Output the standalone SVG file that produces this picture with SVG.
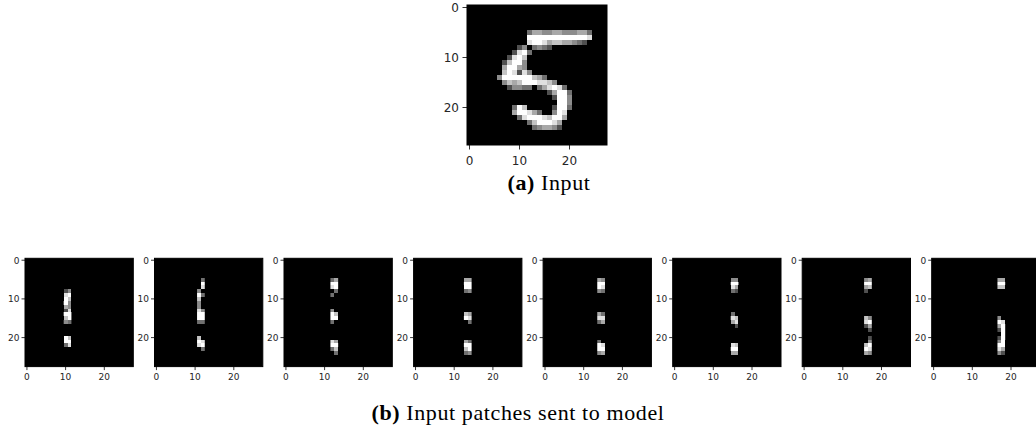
<svg xmlns="http://www.w3.org/2000/svg" xmlns:xlink="http://www.w3.org/1999/xlink" width="1036" height="431" viewBox="0 0 1036 431">
  <style>
    .g9{fill:#ffffff}.g8{fill:#e0e0e0}.g7{fill:#c4c4c4}.g6{fill:#a8a8a8}
    .g5{fill:#8c8c8c}.g4{fill:#707070}.g3{fill:#505050}
    .frame{fill:#000;stroke:#000;stroke-width:1}
    .tick{stroke:#000;stroke-width:0.8}
    .lbl{font-family:"DejaVu Sans",sans-serif;fill:#262626}
    .big{font-size:12px}
    .small{font-size:9px}
    .cap{font-family:"Liberation Serif",serif;font-size:22px;fill:#000;letter-spacing:0.6px}
  </style>
  <defs>
    <!-- 28x28 handwritten digit, one unit per pixel -->
    <g id="digit" shape-rendering="crispEdges">
      <rect x="12" y="5" width="1" height="1" class="g4"/><rect x="13" y="5" width="2" height="1" class="g6"/><rect x="15" y="5" width="2" height="1" class="g5"/><rect x="17" y="5" width="2" height="1" class="g6"/><rect x="19" y="5" width="3" height="1" class="g5"/><rect x="22" y="5" width="2" height="1" class="g6"/><rect x="24" y="5" width="1" height="1" class="g4"/>
      <rect x="12" y="6" width="12" height="1" class="g9"/><rect x="24" y="6" width="1" height="1" class="g8"/>
      <rect x="12" y="7" width="1" height="1" class="g8"/><rect x="13" y="7" width="2" height="1" class="g9"/><rect x="15" y="7" width="1" height="1" class="g8"/><rect x="16" y="7" width="1" height="1" class="g6"/><rect x="17" y="7" width="2" height="1" class="g7"/><rect x="19" y="7" width="2" height="1" class="g6"/><rect x="21" y="7" width="1" height="1" class="g5"/><rect x="22" y="7" width="1" height="1" class="g4"/><rect x="23" y="7" width="1" height="1" class="g3"/>
      <rect x="10" y="8" width="1" height="1" class="g3"/><rect x="11" y="8" width="1" height="1" class="g5"/><rect x="13" y="8" width="1" height="1" class="g4"/><rect x="14" y="8" width="1" height="1" class="g5"/><rect x="15" y="8" width="1" height="1" class="g4"/><rect x="16" y="8" width="1" height="1" class="g3"/>
      <rect x="9" y="9" width="1" height="1" class="g3"/><rect x="10" y="9" width="1" height="1" class="g8"/><rect x="11" y="9" width="1" height="1" class="g9"/><rect x="12" y="9" width="1" height="1" class="g4"/>
      <rect x="8" y="10" width="1" height="1" class="g3"/><rect x="9" y="10" width="1" height="1" class="g8"/><rect x="10" y="10" width="1" height="1" class="g9"/><rect x="11" y="10" width="1" height="1" class="g7"/>
      <rect x="7" y="11" width="1" height="1" class="g3"/><rect x="8" y="11" width="1" height="1" class="g7"/><rect x="9" y="11" width="2" height="1" class="g9"/><rect x="11" y="11" width="1" height="1" class="g5"/>
      <rect x="7" y="12" width="1" height="1" class="g6"/><rect x="8" y="12" width="2" height="1" class="g9"/><rect x="10" y="12" width="1" height="1" class="g6"/><rect x="11" y="12" width="1" height="1" class="g5"/>
      <rect x="7" y="13" width="1" height="1" class="g7"/><rect x="8" y="13" width="1" height="1" class="g9"/><rect x="9" y="13" width="1" height="1" class="g8"/><rect x="10" y="13" width="1" height="1" class="g3"/><rect x="11" y="13" width="1" height="1" class="g8"/><rect x="12" y="13" width="1" height="1" class="g5"/>
      <rect x="6" y="14" width="1" height="1" class="g5"/><rect x="7" y="14" width="6" height="1" class="g9"/><rect x="13" y="14" width="1" height="1" class="g7"/><rect x="14" y="14" width="1" height="1" class="g6"/><rect x="15" y="14" width="1" height="1" class="g4"/>
      <rect x="7" y="15" width="1" height="1" class="g5"/><rect x="8" y="15" width="1" height="1" class="g7"/><rect x="9" y="15" width="1" height="1" class="g6"/><rect x="10" y="15" width="1" height="1" class="g7"/><rect x="11" y="15" width="3" height="1" class="g9"/><rect x="14" y="15" width="2" height="1" class="g8"/><rect x="16" y="15" width="1" height="1" class="g7"/><rect x="17" y="15" width="1" height="1" class="g5"/>
      <rect x="8" y="16" width="1" height="1" class="g3"/><rect x="9" y="16" width="2" height="1" class="g5"/><rect x="11" y="16" width="2" height="1" class="g4"/><rect x="14" y="16" width="1" height="1" class="g4"/><rect x="15" y="16" width="1" height="1" class="g6"/><rect x="16" y="16" width="1" height="1" class="g8"/><rect x="17" y="16" width="1" height="1" class="g9"/><rect x="18" y="16" width="1" height="1" class="g8"/><rect x="19" y="16" width="1" height="1" class="g4"/>
      <rect x="16" y="17" width="1" height="1" class="g3"/><rect x="17" y="17" width="1" height="1" class="g6"/><rect x="18" y="17" width="2" height="1" class="g9"/><rect x="20" y="17" width="1" height="1" class="g4"/>
      <rect x="17" y="18" width="1" height="1" class="g3"/><rect x="18" y="18" width="2" height="1" class="g9"/><rect x="20" y="18" width="1" height="1" class="g5"/>
      <rect x="18" y="19" width="2" height="1" class="g9"/><rect x="20" y="19" width="1" height="1" class="g5"/>
      <rect x="9" y="20" width="1" height="1" class="g4"/><rect x="10" y="20" width="1" height="1" class="g9"/><rect x="11" y="20" width="1" height="1" class="g7"/><rect x="17" y="20" width="1" height="1" class="g3"/><rect x="18" y="20" width="2" height="1" class="g9"/><rect x="20" y="20" width="1" height="1" class="g4"/>
      <rect x="9" y="21" width="1" height="1" class="g6"/><rect x="10" y="21" width="2" height="1" class="g9"/><rect x="12" y="21" width="1" height="1" class="g8"/><rect x="13" y="21" width="1" height="1" class="g6"/><rect x="14" y="21" width="1" height="1" class="g4"/><rect x="17" y="21" width="1" height="1" class="g5"/><rect x="18" y="21" width="1" height="1" class="g9"/><rect x="19" y="21" width="1" height="1" class="g8"/>
      <rect x="10" y="22" width="1" height="1" class="g4"/><rect x="11" y="22" width="1" height="1" class="g8"/><rect x="12" y="22" width="3" height="1" class="g9"/><rect x="15" y="22" width="1" height="1" class="g8"/><rect x="16" y="22" width="1" height="1" class="g7"/><rect x="17" y="22" width="2" height="1" class="g9"/><rect x="19" y="22" width="1" height="1" class="g6"/>
      <rect x="12" y="23" width="1" height="1" class="g4"/><rect x="13" y="23" width="1" height="1" class="g7"/><rect x="14" y="23" width="3" height="1" class="g9"/><rect x="17" y="23" width="1" height="1" class="g8"/><rect x="18" y="23" width="1" height="1" class="g6"/>
      <rect x="13" y="24" width="1" height="1" class="g4"/><rect x="14" y="24" width="1" height="1" class="g5"/><rect x="15" y="24" width="2" height="1" class="g6"/><rect x="17" y="24" width="1" height="1" class="g5"/><rect x="18" y="24" width="1" height="1" class="g3"/>
    </g>

    <!-- two-column strips of the digit, one per patch -->
    <clipPath id="s0"><rect x="10" y="0" width="2" height="28"/></clipPath>
    <clipPath id="s1"><rect x="11" y="0" width="2" height="28"/></clipPath>
    <clipPath id="s2"><rect x="12" y="0" width="2" height="28"/></clipPath>
    <clipPath id="s3"><rect x="13" y="0" width="2" height="28"/></clipPath>
    <clipPath id="s4"><rect x="14" y="0" width="2" height="28"/></clipPath>
    <clipPath id="s5"><rect x="15" y="0" width="2" height="28"/></clipPath>
    <clipPath id="s6"><rect x="16" y="0" width="2" height="28"/></clipPath>
    <clipPath id="s7"><rect x="17" y="0" width="2" height="28"/></clipPath>

    <!-- small axes: black frame, ticks and tick labels (origin = top-left of image) -->
    <g id="axes-small">
      <rect class="frame" x="0" y="0" width="108.3" height="108.3"/>
      <line class="tick" x1="-3.5" y1="1.93" x2="0" y2="1.93"/>
      <line class="tick" x1="-3.5" y1="40.6" x2="0" y2="40.6"/>
      <line class="tick" x1="-3.5" y1="79.3" x2="0" y2="79.3"/>
      <line class="tick" x1="1.93" y1="108.3" x2="1.93" y2="111.8"/>
      <line class="tick" x1="40.6" y1="108.3" x2="40.6" y2="111.8"/>
      <line class="tick" x1="79.3" y1="108.3" x2="79.3" y2="111.8"/>
      <g class="lbl small" text-anchor="end">
        <text x="-5.5" y="5.2">0</text>
        <text x="-5.5" y="43.9">10</text>
        <text x="-5.5" y="82.6">20</text>
      </g>
      <g class="lbl small" text-anchor="middle">
        <text x="1.93" y="122">0</text>
        <text x="40.6" y="122">10</text>
        <text x="79.3" y="122">20</text>
      </g>
    </g>
  </defs>

  <rect x="0" y="0" width="1036" height="431" fill="#fff"/>

  <!-- (a) input image -->
  <g id="input">
    <rect class="frame" x="467" y="5" width="140" height="140"/>
    <use xlink:href="#digit" href="#digit" transform="translate(467,5) scale(5)"/>
    <line class="tick" x1="462.5" y1="7.5" x2="467" y2="7.5"/>
    <line class="tick" x1="462.5" y1="57.5" x2="467" y2="57.5"/>
    <line class="tick" x1="462.5" y1="107.5" x2="467" y2="107.5"/>
    <line class="tick" x1="469.5" y1="145" x2="469.5" y2="149.5"/>
    <line class="tick" x1="519.5" y1="145" x2="519.5" y2="149.5"/>
    <line class="tick" x1="569.5" y1="145" x2="569.5" y2="149.5"/>
    <g class="lbl big" text-anchor="end">
      <text x="459" y="11.8">0</text>
      <text x="459" y="61.8">10</text>
      <text x="459" y="111.8">20</text>
    </g>
    <g class="lbl big" text-anchor="middle">
      <text x="469.5" y="164.5">0</text>
      <text x="519.5" y="164.5">10</text>
      <text x="569.5" y="164.5">20</text>
    </g>
  </g>
  <text id="caption-a" class="cap" x="549" y="190" text-anchor="middle"><tspan font-weight="bold">(a)</tspan> Input</text>

  <!-- (b) patches -->
  <g id="patch-1" transform="translate(25,258.3)"><use xlink:href="#axes-small" href="#axes-small"/><g transform="scale(3.868)"><use xlink:href="#digit" href="#digit" clip-path="url(#s0)"/></g></g>
  <g id="patch-2" transform="translate(154.5,258.3)"><use xlink:href="#axes-small" href="#axes-small"/><g transform="scale(3.868)"><use xlink:href="#digit" href="#digit" clip-path="url(#s1)"/></g></g>
  <g id="patch-3" transform="translate(284,258.3)"><use xlink:href="#axes-small" href="#axes-small"/><g transform="scale(3.868)"><use xlink:href="#digit" href="#digit" clip-path="url(#s2)"/></g></g>
  <g id="patch-4" transform="translate(413.6,258.3)"><use xlink:href="#axes-small" href="#axes-small"/><g transform="scale(3.868)"><use xlink:href="#digit" href="#digit" clip-path="url(#s3)"/></g></g>
  <g id="patch-5" transform="translate(543.1,258.3)"><use xlink:href="#axes-small" href="#axes-small"/><g transform="scale(3.868)"><use xlink:href="#digit" href="#digit" clip-path="url(#s4)"/></g></g>
  <g id="patch-6" transform="translate(672.7,258.3)"><use xlink:href="#axes-small" href="#axes-small"/><g transform="scale(3.868)"><use xlink:href="#digit" href="#digit" clip-path="url(#s5)"/></g></g>
  <g id="patch-7" transform="translate(802.2,258.3)"><use xlink:href="#axes-small" href="#axes-small"/><g transform="scale(3.868)"><use xlink:href="#digit" href="#digit" clip-path="url(#s6)"/></g></g>
  <g id="patch-8" transform="translate(931.7,258.3)"><use xlink:href="#axes-small" href="#axes-small"/><g transform="scale(3.868)"><use xlink:href="#digit" href="#digit" clip-path="url(#s7)"/></g></g>

  <text id="caption-b" class="cap" x="518" y="420" text-anchor="middle"><tspan font-weight="bold">(b)</tspan> Input patches sent to model</text>
</svg>
